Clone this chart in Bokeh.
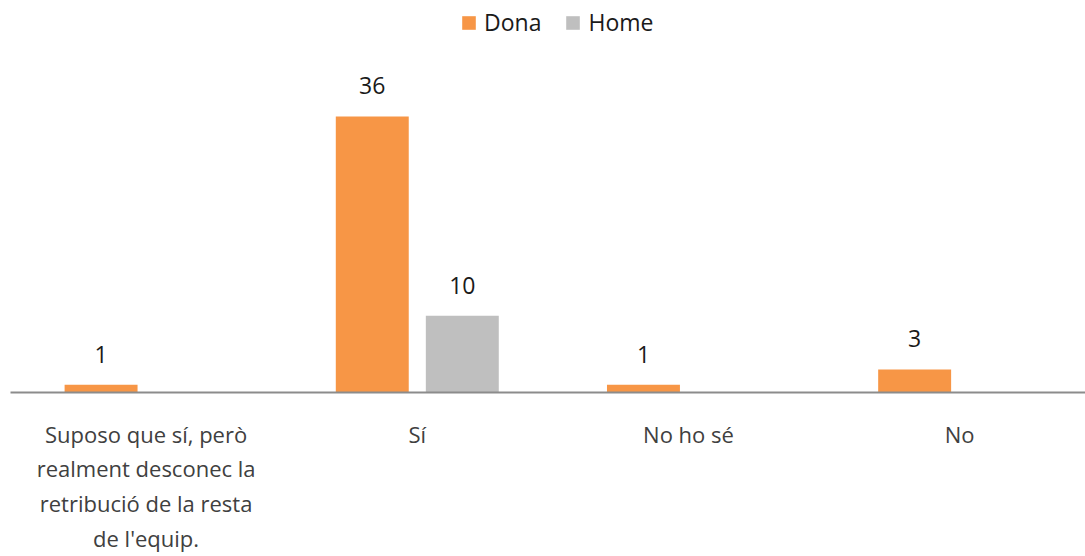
from bokeh.plotting import figure
from bokeh.models import ColumnDataSource, LabelSet, FixedTicker, Range1d, Legend, LegendItem
from bokeh.core.properties import value
from bokeh.embed import file_html
from bokeh.resources import INLINE

categories = ["Suposo que sí, però\nrealment desconec la\nretribució de la resta\nde l'equip.", "Sí", "No ho sé", "No"]
dona = [1, 36, 1, 3]
home = [0, 10, 0, 0]

FONT = "Open Sans"
FS = "23px"
ORANGE = "#F79646"
GREY = "#BFBFBF"

xc = [i + 0.5 for i in range(len(categories))]
off = 0.166
bw = 0.269

p = figure(width=1085, height=556, output_backend="svg", toolbar_location=None,
           x_range=Range1d(0, 3.964), y_range=Range1d(0, 51.13),
           min_border_left=10, min_border_right=0, min_border_top=0, min_border_bottom=164)
p.outline_line_color = None
p.grid.visible = False
p.yaxis.visible = False
p.background_fill_color = "white"
p.border_fill_color = "white"

src_d = ColumnDataSource(dict(x=[v - off for v in xc], top=dona, lab=[str(v) if v else "" for v in dona]))
src_h = ColumnDataSource(dict(x=[v + off for v in xc], top=home, lab=[str(v) if v else "" for v in home]))

rd = p.vbar(x="x", top="top", bottom=0, width=bw, source=src_d, fill_color=ORANGE, line_color=None)
rh = p.vbar(x="x", top="top", bottom=0, width=bw, source=src_h, fill_color=GREY, line_color=None)

for s in (src_d, src_h):
    p.add_layout(LabelSet(x="x", y="top", text="lab", source=s, text_align="center",
                          text_baseline="alphabetic", y_offset=22, text_font=value(FONT),
                          text_font_size=value(FS), text_color="#1a1a1a"))

ax = p.xaxis[0]
ax.ticker = FixedTicker(ticks=xc)
ax.major_label_overrides = {x: c for x, c in zip(xc, categories)}
ax.major_tick_line_color = None
ax.minor_tick_line_color = None
ax.axis_line_color = "#8c8c8c"
ax.axis_line_width = 2
ax.major_label_text_font = FONT
ax.major_label_text_font_size = "22px"
ax.major_label_text_color = "#404040"
ax.major_label_standoff = 20
ax.major_label_text_line_height = 1.16

legend = Legend(items=[LegendItem(label="Dona", renderers=[rd]), LegendItem(label="Home", renderers=[rh])],
                location=(450, 354), orientation="horizontal",
                glyph_width=17, glyph_height=17, label_standoff=7, spacing=23,
                label_text_font=FONT, label_text_font_size=FS, label_text_color="#1a1a1a",
                label_height=20, padding=13, margin=0,
                border_line_color=None, background_fill_alpha=0)
p.add_layout(legend)

open("out.html", "w").write(file_html(p, INLINE))
